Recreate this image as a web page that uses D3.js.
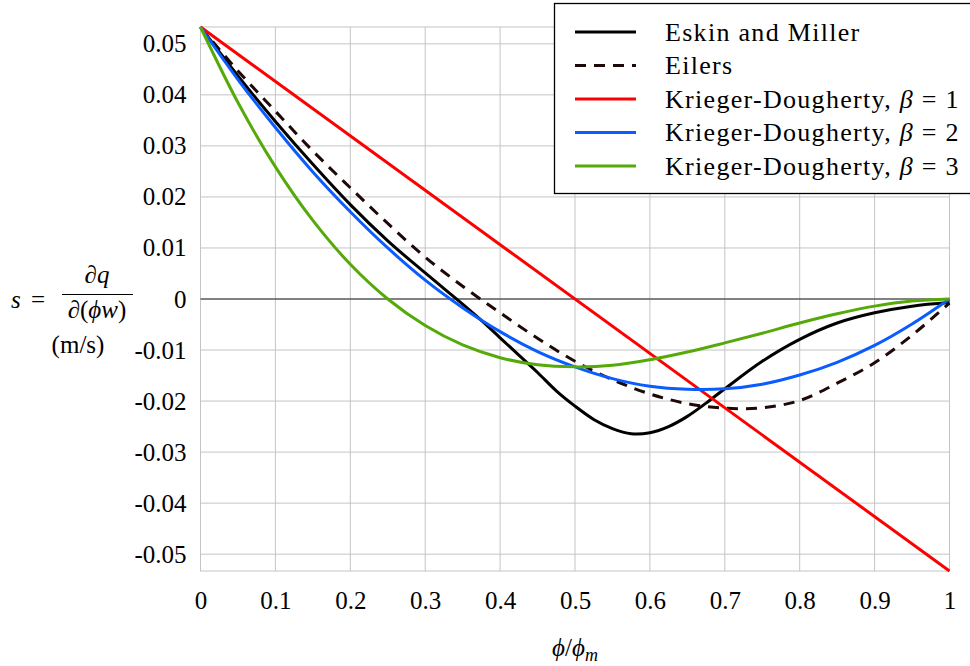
<!DOCTYPE html>
<html>
<head>
<meta charset="utf-8">
<script src="https://cdn.jsdelivr.net/npm/d3@7"></script>
<style>
  body { margin: 0; background: #fff; }
</style>
</head>
<body>
<div class="chart"></div>
<script>
"use strict";

const FONT = "Liberation Serif";

// phi / phi_m sample points (every 0.05)
const phi = [0, 0.05, 0.1, 0.15, 0.2, 0.25, 0.3, 0.35, 0.4, 0.45, 0.5,
  0.55, 0.6, 0.65, 0.7, 0.75, 0.8, 0.85, 0.9, 0.95, 1];

// Eskin and Miller needs denser points around its dip
const eskinMillerPhi = [0, 0.05, 0.1, 0.15, 0.2, 0.25, 0.3, 0.35, 0.375, 0.4,
  0.425, 0.45, 0.475, 0.5, 0.525, 0.55, 0.575, 0.6, 0.625, 0.65, 0.675, 0.7,
  0.75, 0.8, 0.85, 0.9, 0.95, 1];
const eskinMiller = [0.0533, 0.0437, 0.0348, 0.0264, 0.0185, 0.0114, 0.0051,
  -0.001, -0.0042, -0.0076, -0.011, -0.0144, -0.018, -0.021, -0.0236,
  -0.0254, -0.0264, -0.0262, -0.025, -0.023, -0.0204, -0.0176, -0.0122,
  -0.0079, -0.0047, -0.0027, -0.0014, -0.0007];

const eilers = [0.0533, 0.0447, 0.0368, 0.029, 0.0218, 0.0148, 0.0082,
  0.0025, -0.0027, -0.0077, -0.0122, -0.0158, -0.0186, -0.0205, -0.0214,
  -0.0213, -0.0199, -0.0165, -0.0125, -0.0071, -0.0008];

const kd1Phi = [0, 1];
const kd1 = [0.0533, -0.0533];

const kd2 = [0.0533, 0.043, 0.0336, 0.0249, 0.0171, 0.01, 0.0037, -0.0017,
  -0.0064, -0.0103, -0.0133, -0.0156, -0.0171, -0.0177, -0.0176, -0.0167,
  -0.0149, -0.0124, -0.0091, -0.0049, 0];

const kd3 = [0.0533, 0.0385, 0.0259, 0.0154, 0.0068, 0, -0.0052, -0.009,
  -0.0115, -0.0129, -0.0133, -0.013, -0.0119, -0.0104, -0.0086, -0.0067,
  -0.0047, -0.0029, -0.0014, -0.0004, 0];

const xTicks = [0, 0.1, 0.2, 0.3, 0.4, 0.5, 0.6, 0.7, 0.8, 0.9, 1];
const xTickLabels = ["0", "0.1", "0.2", "0.3", "0.4", "0.5", "0.6", "0.7", "0.8", "0.9", "1"];
const yTicks = [0.05, 0.04, 0.03, 0.02, 0.01, 0, -0.01, -0.02, -0.03, -0.04, -0.05];
const yTickLabels = ["0.05", "0.04", "0.03", "0.02", "0.01", "0", "-0.01", "-0.02", "-0.03", "-0.04", "-0.05"];

const series = [
  { name: "Eskin and Miller", x: eskinMillerPhi, y: eskinMiller, color: "#000000", dash: null },
  { name: "Eilers", x: phi, y: eilers, color: "#1e0808", dash: "11,8" },
  { name: "Krieger-Dougherty, ", beta: "1", x: kd1Phi, y: kd1, color: "#ff0000", dash: null },
  { name: "Krieger-Dougherty, ", beta: "2", x: phi, y: kd2, color: "#0a5cff", dash: null },
  { name: "Krieger-Dougherty, ", beta: "3", x: phi, y: kd3, color: "#55aa0a", dash: null }
];

const margin = { top: 27, right: 20.5, bottom: 95, left: 200.5 };
const width = 970 - margin.left - margin.right;
const height = 666 - margin.top - margin.bottom;

const root = d3
  .select(".chart")
  .append("svg")
  .attr("width", 970)
  .attr("height", 666);

const svg = root
  .append("g")
  .attr("transform", "translate(" + margin.left + "," + margin.top + ")");

const x = d3.scaleLinear().domain([0, 1]).range([0, width]);
const y = d3.scaleLinear().domain([-0.0533, 0.0533]).range([height, 0]);

// grid
svg
  .append("g")
  .selectAll("line")
  .data(xTicks)
  .join("line")
  .attr("x1", (d) => x(d))
  .attr("x2", (d) => x(d))
  .attr("y1", 0)
  .attr("y2", height)
  .attr("stroke", "#c4c4c4");

svg
  .append("g")
  .selectAll("line")
  .data(yTicks)
  .join("line")
  .attr("x1", 0)
  .attr("x2", width)
  .attr("y1", (d) => y(d))
  .attr("y2", (d) => y(d))
  .attr("stroke", "#c4c4c4");

svg
  .append("rect")
  .attr("width", width)
  .attr("height", height)
  .attr("fill", "none")
  .attr("stroke", "#c4c4c4");

// zero line
svg
  .append("line")
  .attr("x1", 0)
  .attr("x2", width)
  .attr("y1", y(0))
  .attr("y2", y(0))
  .attr("stroke", "#222")
  .attr("stroke-width", 1.2);

// axes
const xAxis = d3
  .axisBottom(x)
  .tickValues(xTicks)
  .tickFormat((d, i) => xTickLabels[i])
  .tickSize(0)
  .tickPadding(20);

const yAxis = d3
  .axisLeft(y)
  .tickValues(yTicks)
  .tickFormat((d, i) => yTickLabels[i])
  .tickSize(0)
  .tickPadding(14);

svg
  .append("g")
  .attr("transform", `translate(0, ${height})`)
  .call(xAxis)
  .call((g) => g.select(".domain").remove())
  .selectAll("text")
  .attr("font-size", 25)
  .attr("fill", "#000");

svg
  .append("g")
  .call(yAxis)
  .call((g) => g.select(".domain").remove())
  .selectAll("text")
  .attr("font-size", 25)
  .attr("fill", "#000");

// curves
const line = d3
  .line()
  .x((d) => x(d[0]))
  .y((d) => y(d[1]))
  .curve(d3.curveCatmullRom.alpha(0.5));

svg
  .append("g")
  .selectAll("path")
  .data(series)
  .join("path")
  .attr("d", (s) => line(s.x.map((v, i) => [v, s.y[i]])))
  .attr("fill", "none")
  .attr("stroke", (s) => s.color)
  .attr("stroke-width", 3)
  .attr("stroke-dasharray", (s) => s.dash)
  .attr("stroke-linejoin", "round");

// legend
const legend = root.append("g");

legend
  .append("rect")
  .attr("x", 554.5)
  .attr("y", 3.5)
  .attr("width", 430)
  .attr("height", 190)
  .attr("fill", "#fff")
  .attr("stroke", "#000")
  .attr("stroke-width", 1.3);

const item = legend
  .selectAll("g.item")
  .data(series)
  .join("g")
  .attr("class", "item")
  .attr("transform", (d, i) => `translate(0, ${32 + i * 33.5})`);

item
  .append("line")
  .attr("x1", 575)
  .attr("x2", 636)
  .attr("stroke", (d) => d.color)
  .attr("stroke-width", 3)
  .attr("stroke-dasharray", (d) => d.dash);

const label = item
  .append("text")
  .attr("x", 665)
  .attr("y", 8.5)
  .attr("font-size", 26)
  .attr("letter-spacing", 1.3);

label.append("tspan").text((d) => d.name);
label
  .filter((d) => d.beta)
  .append("tspan")
  .attr("font-style", "italic")
  .text("β");
label
  .filter((d) => d.beta)
  .append("tspan")
  .text((d) => " = " + d.beta);

// y axis label
const yl = root.append("g");

yl.append("text")
  .attr("x", 11)
  .attr("y", 308)
  .attr("font-style", "italic")
  .text("s");

yl.append("text")
  .attr("x", 31)
  .attr("y", 308)
  .text("=");

yl.append("text")
  .attr("x", 97)
  .attr("y", 283)
  .attr("text-anchor", "middle")
  .call((t) => t.append("tspan").text("∂"))
  .call((t) => t.append("tspan").attr("font-style", "italic").text("q"));

yl.append("line")
  .attr("x1", 62)
  .attr("x2", 133)
  .attr("y1", 294.5)
  .attr("y2", 294.5)
  .attr("stroke", "#000")
  .attr("stroke-width", 1.2);

yl.append("text")
  .attr("x", 97)
  .attr("y", 318)
  .attr("text-anchor", "middle")
  .call((t) => t.append("tspan").text("∂("))
  .call((t) => t.append("tspan").attr("font-style", "italic").text("ϕw"))
  .call((t) => t.append("tspan").text(")"));

yl.append("text")
  .attr("x", 78)
  .attr("y", 353)
  .attr("text-anchor", "middle")
  .text("(m/s)");

// x axis label
const xl = root
  .append("text")
  .attr("x", margin.left + x(0.5))
  .attr("y", 656)
  .attr("text-anchor", "middle");

xl.append("tspan").attr("font-style", "italic").text("ϕ");
xl.append("tspan").text("/");
xl.append("tspan").attr("font-style", "italic").text("ϕ");
xl.append("tspan")
  .attr("font-style", "italic")
  .attr("dy", 5)
  .text("m");

// font set on every text element itself
root.selectAll("text").attr("font-family", FONT);
root.selectAll("text:not([font-size])").attr("font-size", 25);
xl.select("tspan:last-child").attr("font-size", 18);
</script>
</body>
</html>
